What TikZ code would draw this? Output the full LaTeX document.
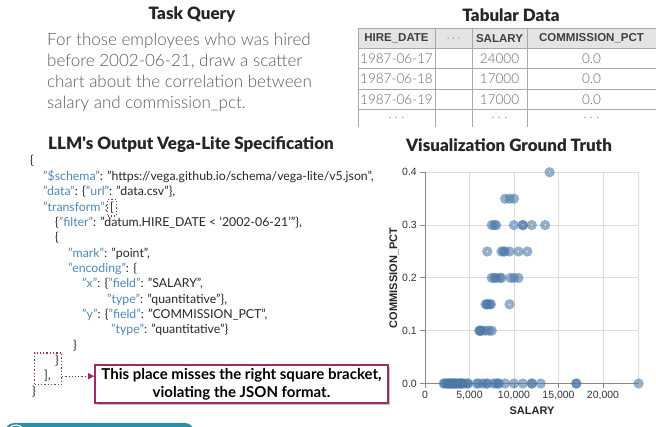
\documentclass[tikz,border=0pt]{standalone}
\usepackage{fontspec}
\setmainfont{Lato}
\newfontfamily\arialfont{Liberation Sans}
\IfFontExistsTF{Lato Black}{\newfontfamily\blackfont{Lato Black}}{\newcommand\blackfont{\bfseries}}
\IfFontExistsTF{Lato Light}{\newfontfamily\lightfont{Lato Light}}{\newcommand\lightfont{}}
\usepackage{xcolor}
\usetikzlibrary{arrows.meta, positioning, fit, calc, shadows}
\definecolor{keyblue}{HTML}{4F86B5}
\definecolor{markred}{HTML}{9A2C66}
\definecolor{textgray}{HTML}{5A5A5A}
\definecolor{pointblue}{HTML}{4C78A8}
\definecolor{gridgray}{HTML}{DDDDDD}
\definecolor{axisgray}{HTML}{888888}
\definecolor{rulegray}{HTML}{A8A8A8}
\definecolor{headgray}{HTML}{E4E4E4}
\definecolor{barteal}{HTML}{2C8FA8}

% json key in blue, quotes included
\newcommand{\jk}[1]{\textcolor{keyblue}{"#1"}}

\begin{document}
\begin{tikzpicture}[
    x=1pt, y=-1pt,
    heading/.style={font=\blackfont\fontsize{17}{19}\selectfont, text=black!85, inner sep=0pt},
    query/.style={font=\lightfont\fontsize{17}{21}\selectfont, text=textgray, align=left, inner sep=0pt},
    codeline/.style={font=\fontsize{12.3}{14}\selectfont, text=black!85, inner sep=0pt, anchor=base west},
    thead/.style={font=\arialfont\bfseries\fontsize{11.5}{13}\selectfont, text=black!75, inner sep=0pt},
    tcell/.style={font=\lightfont\fontsize{13.5}{15}\selectfont, text=black!60, inner sep=0pt},
    ticklabel/.style={font=\arialfont\fontsize{10.5}{12}\selectfont, text=black!80, inner sep=0pt},
    axislabel/.style={font=\arialfont\bfseries\fontsize{11}{13}\selectfont, text=black!85, inner sep=0pt},
    errbox/.style={draw=markred, dotted, line width=1.3pt, inner sep=2.5pt},
    notebox/.style={draw=markred, line width=1.6pt, fill=white, align=center, inner sep=0pt,
        font=\bfseries\fontsize{15}{18}\selectfont, minimum width=293pt, minimum height=38pt,
        drop shadow={shadow xshift=2pt, shadow yshift=-2pt, fill=black!40, opacity=.6}},
    arrow/.style={markred, dotted, line width=1.2pt, -{Triangle[length=6pt, width=6pt]}},
    scatterpt/.style={pointblue, opacity=0.6, line width=4pt},
]
    \useasboundingbox (0,0) rectangle (656,427);
    \clip (0,0) rectangle (656,427);

    % Titles
    \node[heading] (tasktitle) at (192,15) {Task Query};
    \node[heading] (tabtitle) at (511,15) {Tabular Data};
    \node[heading] (spectitle) at (191,145) {LLM's Output Vega-Lite Specification};
    \node[heading] (vistitle) at (509,145) {Visualization Ground Truth};

    % Query
    \node[query, anchor=north west] (querytext) at (47,33)
        {For those employees who was hired\\before 2002-06-21, draw a scatter\\chart about the correlation between\\salary and commission\_pct.};

    % Table
    \fill[headgray] (358,28) rectangle (656,48);
    \foreach \yy in {28,48,68.5,89,109.5}
        \draw[rulegray, line width=0.8pt] (358,\yy) -- (656,\yy);
    \foreach \xx in {358,435,472,527}
        \draw[rulegray, line width=0.8pt] (\xx,28) -- (\xx,127);
    \node[thead] (hhire) at (396.5,38.5) {HIRE\_DATE};
    \node[thead, text=black!50] (hdots) at (453.5,38.5) {$\cdots$};
    \node[thead] (hsal) at (499.5,38.5) {SALARY};
    \node[thead] (hpct) at (591.5,38.5) {COMMISSION\_PCT};
    \foreach \d/\s/\p [count=\r] in {1987-06-17/24000/0.0, 1987-06-18/17000/0.0, 1987-06-19/17000/0.0} {
        \node[tcell] (date\r) at (396.5,{58.5+20.5*(\r-1)}) {\d};
        \node[tcell] (sal\r) at (499.5,{58.5+20.5*(\r-1)}) {\s};
        \node[tcell] (pct\r) at (591.5,{58.5+20.5*(\r-1)}) {\p};
    }
    \node[tcell, text=black!40] (datemore) at (396.5,118) {$\cdots$};
    \node[tcell, text=black!40] (salmore) at (499.5,118) {$\cdots$};
    \node[tcell, text=black!40] (pctmore) at (591.5,118) {$\cdots$};

    % Vega-Lite spec
    \node[codeline] (c0) at (30,165) {\{};
    \node[codeline] (c1) at (43,181) {\jk{\$schema}: "https://vega.github.io/schema/vega-lite/v5.json",};
    \node[codeline] (c2) at (43,196) {\jk{data}: \{\jk{url}: "data.csv"\},};
    \node[codeline] (c3) at (43,211.5) {\jk{transform}:};
    \node[codeline, right=2pt of c3.base east, anchor=base west] (lbrack) {[};
    \node[codeline] (c4) at (55,227) {\{\jk{filter}: "datum.HIRE\_DATE < '2002-06-21'"\},};
    \node[codeline] (c5) at (55,242) {\{};
    \node[codeline] (c6) at (68,257.5) {\jk{mark}: "point",};
    \node[codeline] (c7) at (68,273) {\jk{encoding}: \{};
    \node[codeline] (c8) at (82,288) {\jk{x}: \{\jk{field}: "SALARY",};
    \node[codeline] (c9) at (107,303.5) {\jk{type}: "quantitative"\},};
    \node[codeline] (c10) at (82,319) {\jk{y}: \{\jk{field}: "COMMISSION\_PCT",};
    \node[codeline] (c11) at (111,334) {\jk{type}: "quantitative"\}};
    \node[codeline] (c12) at (73,349.5) {\}};
    \node[codeline] (c13) at (55,365) {\}};
    \node[codeline] (closebr) at (44,380) {],};
    \node[codeline] (c15) at (32,395.5) {\}};

    % Error marks
    \coordinate (boxleft) at ($(closebr.west)+(-7,0)$);
    \node[errbox, fit=(lbrack)] (openbox) {};
    \node[errbox, fit=(c13) (closebr) (boxleft)] (closebox) {};
    \node[notebox] (note) at (241.5,384)
        {This place misses the right square bracket,\\violating the JSON format.};
    \draw[arrow] (closebox.east |- closebr.center) -- (closebr.center -| note.west);

    % Scatter grid and axes (salary in thousands)
    \foreach \s in {5,10,15,20,24}
        \draw[gridgray, line width=0.8pt] ({425+\s*8.9},172) -- ({425+\s*8.9},383.5);
    \foreach \p in {0.1,0.2,0.3,0.4}
        \draw[gridgray, line width=0.8pt] (425,{383.5-\p*528}) -- (638.6,{383.5-\p*528});
    \draw[axisgray, line width=0.8pt] (425,172) -- (425,383.5) -- (638.6,383.5);
    \foreach \p in {0.0,0.1,0.2,0.3,0.4} {
        \draw[axisgray, line width=0.8pt] (420,{383.5-\p*528}) -- (425,{383.5-\p*528});
        \node[ticklabel, anchor=east] (ytick\p) at (417,{383.5-\p*528}) {\p};
    }
    \foreach \s/\lab in {0/0,5/{5,000},10/{10,000},15/{15,000},20/{20,000}} {
        \draw[axisgray, line width=0.8pt] ({425+\s*8.9},383.5) -- ({425+\s*8.9},388.5);
        \node[ticklabel, anchor=north] (xtick\s) at ({425+\s*8.9},391) {\lab};
    }
    \node[axislabel] (xlabel) at (532,411) {SALARY};
    \node[axislabel, rotate=90] (ylabel) at (394,278) {COMMISSION\_PCT};

    % Scatter points
    \foreach \s/\p in {14/0.4, 9/0.35, 9.5/0.35, 10/0.35,
        7.5/0.3, 7.8/0.3, 8/0.3, 10/0.3, 11/0.3, 11/0.3, 12/0.3, 13.5/0.3,
        7/0.25, 8.6/0.25, 8.8/0.25, 9/0.25, 9.5/0.25, 10.5/0.25, 11.5/0.25,
        7.5/0.2, 7.8/0.2, 8/0.2, 8.4/0.2, 8.6/0.2, 9.6/0.2, 10/0.2, 10.5/0.2,
        6.8/0.15, 7/0.15, 7/0.15, 7.3/0.15, 7.4/0.15, 9.5/0.15,
        6.1/0.1, 6.2/0.1, 6.2/0.1, 6.4/0.1, 6.8/0.1, 7.2/0.1, 7.5/0.1}
        \draw[scatterpt] ({425+\s*8.9},{383.5-\p*528}) circle (3);
    \foreach \s in {2.1,2.2,2.4,2.5,2.6,2.7,2.8,2.9,3,3.1,3.2,3.3,3.4,3.5,
        3.6,3.8,3.9,4,4.1,4.2,4.4,4.8,4.8,5.8,6,6.5,6.9,7,7.7,8,8.2,
        8.3,9,10,11,12,12,13,17,17,24}
        \draw[scatterpt] ({425+\s*8.9},383.5) circle (3);

    % Bar at the bottom edge
    \fill[barteal, rounded corners=9pt] (5,423) rectangle (194,450);
    \draw[white, line width=1pt] (16,434) circle (9);
\end{tikzpicture}
\end{document}
